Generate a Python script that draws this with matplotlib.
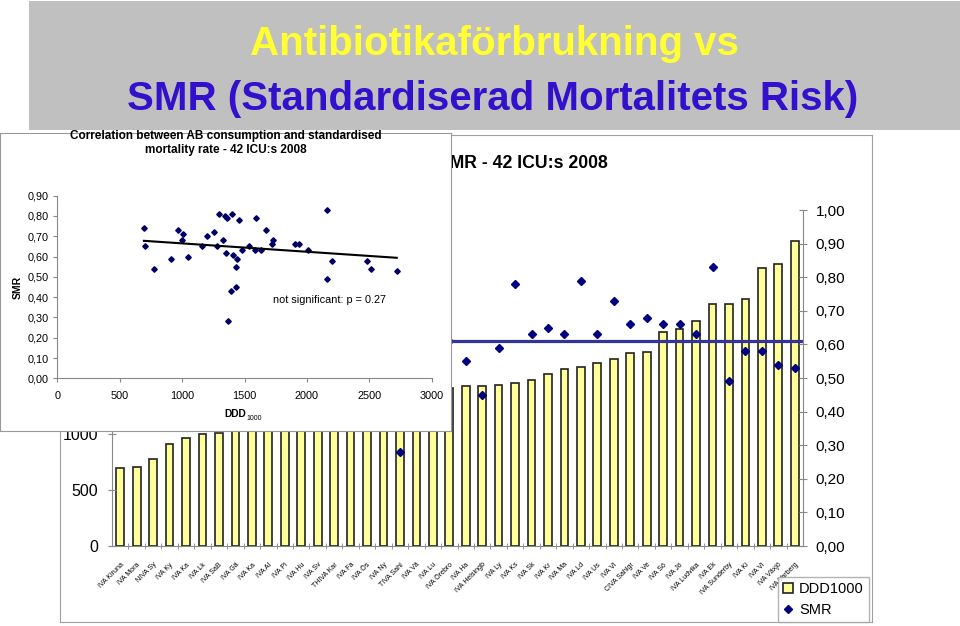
import matplotlib
matplotlib.use("Agg")
import matplotlib.pyplot as plt
import numpy as np

plt.rcParams['font.family'] = ['Liberation Sans', 'DejaVu Sans']

# 42 ICUs, sorted by antibiotic consumption (DDD per 1000 days)
icu_names = ["IVA Kiruna", "IVA Mora", "NIVA Sy", "IVA Ky", "IVA Ka", "IVA Lk",
             "IVA SaB", "IVA Gä", "IVA Ka", "IVA Al", "IVA Pi", "IVA Hu",
             "IVA Sv", "THIVA Kar", "IVA Fa", "IVA Ös", "IVA Ny", "TIVA Sahl",
             "IVA Vä", "IVA Lu", "IVA Örebro", "IVA Ha", "IVA Helsingb", "IVA Ly",
             "IVA Ks", "IVA Sk", "IVA Kr", "IVA Ma", "IVA Ld", "IVA Us",
             "IVA Vi", "CIVA Sahlgr", "IVA Ve", "IVA Sö", "IVA Jö", "IVA Ludvika",
             "IVA Ek", "IVA Sunderby", "IVA Ki", "IVA Vi", "IVA Växjö", "IVA Varberg"]
ddd = [694, 703, 775, 914, 967, 996, 1010, 1045, 1162, 1197, 1258, 1280,
       1298, 1328, 1344, 1352, 1360, 1365, 1394, 1400, 1410, 1429, 1432, 1437,
       1453, 1483, 1536, 1581, 1595, 1635, 1670, 1720, 1731, 1908, 1937, 2009,
       2161, 2164, 2201, 2479, 2516, 2720]
smr = [0.74, 0.65, 0.54, 0.59, 0.73, 0.68, 0.71, 0.60, 0.65, 0.70, 0.72, 0.65,
       0.81, 0.68, 0.80, 0.62, 0.79, 0.28, 0.43, 0.81, 0.61, 0.55, 0.45, 0.59,
       0.78, 0.63, 0.65, 0.63, 0.79, 0.63, 0.73, 0.66, 0.68, 0.66, 0.66, 0.63,
       0.83, 0.49, 0.58, 0.58, 0.54, 0.53]
smr_ref = 0.61
left_ticks = [0, 500, 1000, 1500, 2000, 2500, 3000]
right_ticks = [0.0, 0.1, 0.2, 0.3, 0.4, 0.5, 0.6, 0.7, 0.8, 0.9, 1.0]
inset_xticks = [0, 500, 1000, 1500, 2000, 2500, 3000]
inset_yticks = [0.0, 0.1, 0.2, 0.3, 0.4, 0.5, 0.6, 0.7, 0.8, 0.9]

W, H = 960, 626
fig = plt.figure(figsize=(W / 100, H / 100), dpi=100)


def rect(x0, y0, x1, y1):
    # pixel box (top-left origin) -> figure fraction
    return [x0 / W, 1 - y1 / H, (x1 - x0) / W, (y1 - y0) / H]


def panel(r, face, edge=None):
    a = fig.add_axes(r)
    a.set_facecolor(face)
    a.set_xticks([])
    a.set_yticks([])
    for s in a.spines.values():
        if edge is None:
            s.set_visible(False)
        else:
            s.set_color(edge)
    return a


def ptext(a, x, y, s, **kw):
    return a.text(x / W, 1 - y / H, s, transform=fig.transFigure, **kw)


def comma(v):
    return f"{v:.2f}".replace('.', ',')


# slide title band
band = panel(rect(29, 1, 960, 130), '#c0c0c0')
ptext(band, 494, 55, "Antibiotikaförbrukning vs", ha='center', va='baseline',
      fontsize=29, fontweight='bold', color='#ffff33')
ptext(band, 493, 110, "SMR (Standardiserad Mortalitets Risk)", ha='center',
      va='baseline', fontsize=29, fontweight='bold', color='#3311cc')

# background chart
main = panel(rect(60, 135, 872, 622), 'white', '#a0a0a0')
ptext(main, 608, 167.5, "DDD1000 vs SMR - 42 ICU:s 2008", ha='right',
      va='baseline', fontsize=12.7, fontweight='bold')

x = np.arange(len(ddd))
ax = fig.add_axes(rect(112, 210, 803, 546))
ax.set_facecolor('none')
bars = ax.bar(x, ddd, width=0.47, color='#ffff99', edgecolor='#222222',
              linewidth=1.2, label='DDD1000')
ax.set_xlim(-0.5, len(ddd) - 0.5)
ax.set_ylim(0, 3000)
ax.set_yticks(left_ticks)
ax.set_xticks(x)
ax.set_xticklabels(icu_names, rotation=45, ha='right', rotation_mode='anchor',
                   fontsize=5)
ax.set_xticks(x[:-1] + 0.5, minor=True)
ax.tick_params(axis='x', which='major', length=0, pad=11)
ax.tick_params(axis='x', which='minor', length=5, direction='inout', color='#888888')
ax.tick_params(axis='y', length=6, direction='inout', color='#888888',
               labelsize=11.5, pad=7)
ax.spines['top'].set_visible(False)
ax.spines['right'].set_visible(False)
ax.spines['left'].set_color('#888888')
ax.spines['bottom'].set_color('#888888')

ax2 = ax.twinx()
ax2.plot(x, smr, 'D', color='#000080', ms=4.2, ls='none', label='SMR')
ax2.axhline(smr_ref, color='#333399', lw=2.3)
ax2.set_ylim(0, 1.0)
ax2.set_yticks(right_ticks)
ax2.set_yticklabels([comma(v) for v in right_ticks])
ax2.tick_params(axis='y', length=6, direction='inout', color='#888888',
                labelsize=11, pad=6)
for k in ['top', 'left', 'bottom']:
    ax2.spines[k].set_visible(False)
ax2.spines['right'].set_color('#888888')

leg = ax2.legend([bars, ax2.lines[0]], ['DDD1000', 'SMR'], loc='lower left',
                 bbox_to_anchor=(778 / W, 1 - 622 / H), bbox_transform=fig.transFigure,
                 fancybox=False, edgecolor='#a0a0a0', fontsize=10.5,
                 handlelength=0.7, handleheight=0.7, handletextpad=0.4,
                 borderpad=0.35, labelspacing=0.45, borderaxespad=0)
leg.get_frame().set_linewidth(1.0)

# inset correlation chart
ins = panel(rect(0, 133, 451, 431), 'white', '#999999')
ptext(ins, 226, 153, "Correlation between AB consumption and standardised\n"
      "mortality rate - 42 ICU:s 2008", ha='center', va='baseline',
      fontsize=8.5, fontweight='bold', linespacing=1.25)
ptext(ins, 18, 287, "SMR", rotation=90, ha='center', va='center',
      fontsize=7.5, fontweight='bold')
ptext(ins, 246, 417.3, "DDD", ha='right', va='baseline', fontsize=7.4,
      fontweight='bold')
ptext(ins, 246, 419.5, "1000", ha='left', va='baseline', fontsize=5)

iax = fig.add_axes(rect(57.3, 195.7, 431.7, 378.3))
iax.set_facecolor('none')
iax.plot(ddd, smr, 'D', color='#000066', ms=2.8, ls='none')
fit = np.polyfit(ddd, smr, 1)
xs = np.array([min(ddd), max(ddd)])
iax.plot(xs, np.polyval(fit, xs), color='black', lw=1.5)
iax.text(1730, 0.385, "not significant: p = 0.27", fontsize=7.8, va='center')
iax.set_xlim(0, 3000)
iax.set_ylim(0, 0.9)
iax.set_xticks(inset_xticks)
iax.set_yticks(inset_yticks)
iax.set_yticklabels([comma(v) for v in inset_yticks])
iax.tick_params(length=3, color='#888888', labelsize=7.8)
iax.tick_params(axis='y', pad=3.5)
iax.tick_params(axis='x', pad=6)
iax.spines['top'].set_visible(False)
iax.spines['right'].set_visible(False)
iax.spines['left'].set_color('#888888')
iax.spines['bottom'].set_color('#888888')

fig.savefig('out.png', dpi=100)
